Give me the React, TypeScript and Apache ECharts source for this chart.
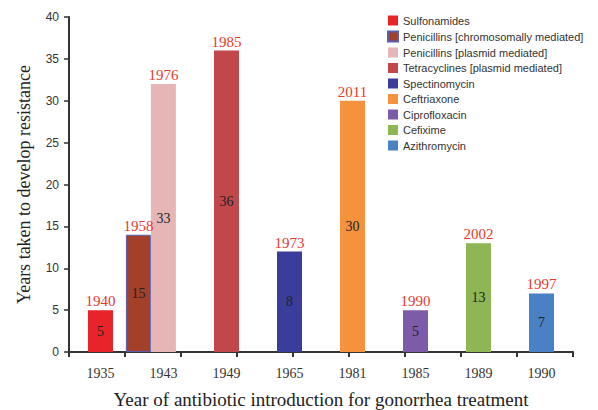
import React, { useEffect, useRef } from "react";
import * as echarts from "echarts";

// Category labels on the x axis (year of introduction)
const introYears = ["1935", "1943", "1949", "1965", "1981", "1985", "1989", "1990"];
// Drugs (legend order)
const drugs = [
  "Sulfonamides",
  "Penicillins [chromosomally mediated]",
  "Penicillins [plasmid mediated]",
  "Tetracyclines [plasmid mediated]",
  "Spectinomycin",
  "Ceftriaxone",
  "Ciprofloxacin",
  "Cefixime",
  "Azithromycin",
];
const drugIntro = ["1935", "1943", "1943", "1949", "1965", "1981", "1985", "1989", "1990"];
// Bar heights as drawn
const barHeights = [5, 14, 32, 36, 12, 30, 5, 13, 7];
// Numbers printed inside the bars
const insideLabels = ["5", "15", "33", "36", "8", "30", "5", "13", "7"];
// Year resistance developed (red labels on top)
const resistanceYears = ["1940", "1958", "1976", "1985", "1973", "2011", "1990", "2002", "1997"];
const yTicks = [0, 5, 10, 15, 20, 25, 30, 35, 40];

const colors = [
  "#e8242a",
  "#a3402a",
  "#e6b6b6",
  "#c2474b",
  "#3b3d9b",
  "#f5923e",
  "#7c5ca8",
  "#8eb654",
  "#4a80c4",
];

const SERIF = "'Liberation Serif', 'Times New Roman', serif";
const SANS = "'Liberation Sans', Arial, sans-serif";
const PAIR_CENTER = 1.3; // position of the 1943 pair on the hidden value axis

export default function App() {
  const ref = useRef<HTMLDivElement>(null);
  useEffect(() => {
    if (!ref.current) return;
    const chart = echarts.init(ref.current, undefined, { renderer: "svg" });

    const series: any[] = drugs.map((name, i) => {
      const paired = drugIntro[i] === "1943";
      const data = paired
        ? [[PAIR_CENTER, barHeights[i]]]
        : introYears.map((y) => (y === drugIntro[i] ? barHeights[i] : null));
      return {
        name,
        type: "bar",
        xAxisIndex: paired ? 1 : 0,
        yAxisIndex: 0,
        data,
        barWidth: 25,
        barGap: paired ? "0%" : "-100%",
        itemStyle: {
          color: colors[i],
          borderColor: i === 1 ? "#5b5fb0" : undefined,
          borderWidth: i === 1 ? 1 : 0,
        },
        label: {
          show: true,
          position: "inside",
          formatter: () => insideLabels[i],
          fontFamily: SERIF,
          fontSize: 14,
          color: "#222",
        },
        markPoint: {
          symbol: "circle",
          symbolSize: 1,
          itemStyle: { color: "rgba(0,0,0,0)" },
          data: [{ type: "max" }],
          label: {
            show: true,
            position: "top",
            distance: 1,
            formatter: () => resistanceYears[i],
            fontFamily: SERIF,
            fontSize: 15,
            color: "#e8392c",
          },
        },
      };
    });

    chart.setOption({
      animation: false,
      backgroundColor: "#ffffff",
      grid: {
        left: 69,
        right: 25,
        top: 17,
        bottom: 58,
        containLabel: false,
        outerBoundsMode: "none",
      },
      legend: {
        data: drugs,
        orient: "vertical",
        left: 382,
        top: 10,
        icon: "rect",
        itemWidth: 10,
        itemHeight: 10,
        itemGap: 4.5,
        textStyle: { fontFamily: SANS, fontSize: 11, color: "#333" },
      },
      xAxis: [
        {
          type: "category",
          data: introYears,
          position: "bottom",
          axisLine: { show: true, lineStyle: { color: "#333", width: 2 } },
          axisTick: { show: false },
          axisLabel: { fontFamily: SERIF, fontSize: 14, color: "#333", margin: 14 },
          name: "Year of antibiotic introduction for gonorrhea treatment",
          nameLocation: "middle",
          nameGap: 38,
          nameTextStyle: { fontFamily: SERIF, fontSize: 19, color: "#222" },
          splitLine: { show: false },
        },
        {
          type: "value",
          min: 0,
          max: introYears.length,
          position: "bottom",
          show: false,
        },
        {
          type: "category",
          data: Array(9).fill(""),
          position: "bottom",
          boundaryGap: true,
          axisLine: { show: false },
          axisTick: { show: true, length: 5, lineStyle: { color: "#333", width: 2 } },
          axisLabel: { show: false },
          splitLine: { show: false },
        },
      ],
      yAxis: {
        type: "value",
        min: 0,
        max: 40,
        interval: 5,
        axisLine: { show: true, lineStyle: { color: "#333", width: 2 } },
        axisTick: { show: true, length: 5, lineStyle: { color: "#333", width: 1.5 } },
        axisLabel: {
          fontFamily: SANS,
          fontSize: 12,
          color: "#333",
          margin: 10,
          formatter: (v: number) => (yTicks.includes(v) ? String(v) : ""),
        },
        splitLine: { show: false },
        name: "Years taken to develop resistance",
        nameLocation: "middle",
        nameGap: 36,
        nameTextStyle: { fontFamily: SERIF, fontSize: 18, color: "#222" },
      },
      series,
    });

    return () => chart.dispose();
  }, []);

  return <div ref={ref} style={{ width: 598, height: 410, position: "absolute", left: 0, top: 0 }} />;
}
